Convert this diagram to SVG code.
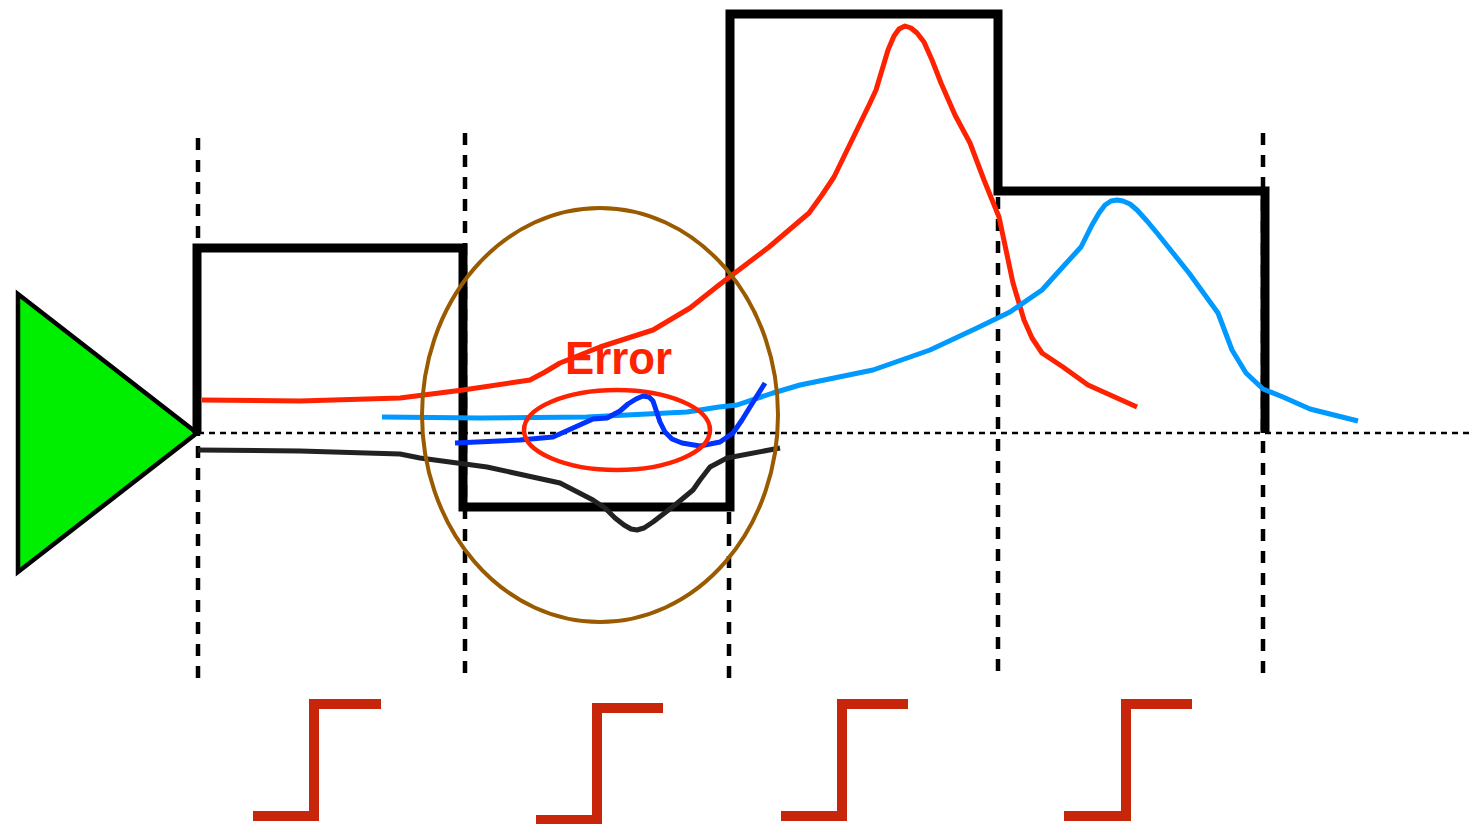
<svg xmlns="http://www.w3.org/2000/svg" width="1470" height="824" viewBox="0 0 1470 824">
<style>
.vdash{stroke:#000;stroke-width:4.5;stroke-dasharray:12 10;fill:none}
.hdot{stroke:#000;stroke-width:2.5;stroke-dasharray:6 5;fill:none}
.pulse{stroke:#000;stroke-width:9;fill:none;stroke-linejoin:miter}
.curve{fill:none;stroke-width:5;stroke-linejoin:round;stroke-linecap:butt}
.step{fill:none;stroke:#c8260a;stroke-width:10;stroke-linejoin:miter}
</style>
<rect width="1470" height="824" fill="#fff"/>
<g id="grid">
<line class="vdash" x1="198" y1="138" x2="198" y2="680"/>
<line class="vdash" x1="465" y1="133" x2="465" y2="680"/>
<line class="vdash" x1="729" y1="512" x2="729" y2="680"/>
<line class="vdash" x1="998" y1="197" x2="998" y2="680"/>
<line class="vdash" x1="1263" y1="133" x2="1263" y2="680"/>
<line class="hdot" x1="198" y1="433" x2="1470" y2="433"/>
</g>
<g id="triangle">
<polygon points="18,294 18,572 197,433" fill="#00ee00" stroke="#000" stroke-width="4.5" stroke-linejoin="miter"/>
</g>
<g id="pulse">
<polyline class="pulse" points="197,433 197,248 463,248 463,507 730,507 730,14 998,14 998,191 1265,191 1265,433"/>
</g>
<g id="curves">
<polyline class="curve" stroke="#ff2200" points="202,400 300,401 400,398 463,390 530,380 545,372 560,363 600,347 653,330 690,308 719,285 769,247 809,213 822,195 834,177 852,140 870,103 876,90 882,70 888,50 894,36 899,29 905,26 911,28 917,33 924,42 932,60 941,83 955,115 970,143 984,180 999,217 1006,250 1013,283 1024,320 1032,338 1042,353 1063,367 1088,385 1137,407"/>
<polyline class="curve" stroke="#0099ff" points="382,417 480,418 587,417 687,412 719,407 737,405 773,393 800,385 873,370 930,350 977,328 1010,312 1042,290 1060,270 1081,247 1092,225 1099,213 1105,205 1111,201 1117,200 1123,201 1130,204 1137,210 1147,221 1157,233 1189,273 1218,313 1232,350 1246,373 1263,389 1283,397 1310,409 1358,421"/>
<polyline class="curve" stroke="#0033ff" points="455,443 520,440 553,437 593,419 607,418 620,411 628,404 636,399 643,396 649,397 653,401 656,410 660,422 665,432 672,439 682,443 700,446 720,442 733,433 742,420 750,407 765,383"/>
<polyline class="curve" stroke="#222" stroke-width="3.5" points="198,450 300,451 400,454 420,458 487,467 560,483 593,500 605,508 615,518 624,525 631,529 637,530 644,528 653,522 675,505 693,490 700,480 710,467 727,458 780,448"/>
<ellipse cx="600" cy="415" rx="178" ry="207" fill="none" stroke="#9a5b00" stroke-width="4"/>
<ellipse cx="617" cy="430" rx="93" ry="40" fill="none" stroke="#ff2200" stroke-width="4.5"/>
</g>
<g id="label">
<text x="565" y="374" font-family="Liberation Sans, Arial, sans-serif" font-weight="bold" font-size="46" fill="#ff2200" textLength="107" lengthAdjust="spacingAndGlyphs">Error</text>
</g>
<g id="steps">
<polyline class="step" points="253,816 314,816 314,704 381,704"/>
<polyline class="step" points="536,820 597,820 597,708 663,708"/>
<polyline class="step" points="781,816 842,816 842,704 908,704"/>
<polyline class="step" points="1064,816 1126,816 1126,704 1192,704"/>
</g>
</svg>
